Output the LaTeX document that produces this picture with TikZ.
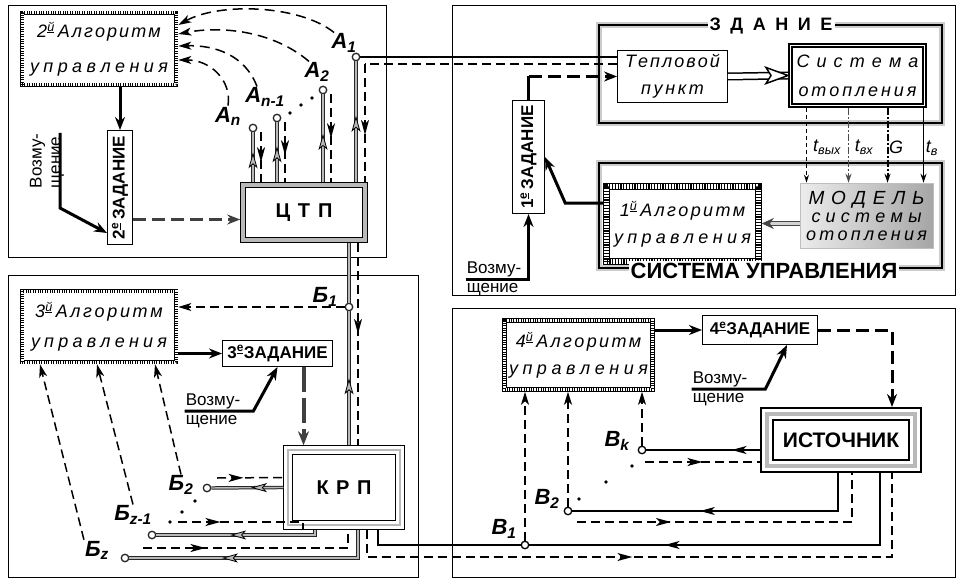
\documentclass[tikz,border=0pt]{standalone}
\usepackage{fontspec}
\setmainfont{Liberation Sans}
\usetikzlibrary{arrows.meta,decorations.markings}

\makeatletter
\newcommand\spr[2]{\hbox to #1{\@tfor\spr@c:=#2\do{\spr@c\hfil}\unskip}}
\makeatother
\newcommand\ordn[2]{#1\textsuperscript{\underline{#2}}}
\newcommand\pinlab[2]{#1\textsubscript{#2}}

\newcommand\itf{\fontsize{18}{27}\selectfont\itshape}
\newcommand\bff{\fontsize{17}{20}\selectfont\bfseries}
\newcommand\bigbf{\fontsize{20}{24}\selectfont\bfseries}
\newcommand\labf{\fontsize{22}{24}\selectfont\bfseries\itshape}
\newcommand\vzf{\fontsize{17}{19}\selectfont}

\tikzset{
  panel/.style={draw, line width=0.7pt},
  frm/.style={line width=1.3pt, preaction={draw=gray!40, line width=6pt}},
  algbox/.style={draw=black, line width=3pt, dash pattern=on 1pt off 1.4pt,
    preaction={draw=black, line width=4.6pt, solid},
    preaction={draw=white, line width=3pt, solid},
    outer sep=2.3pt, inner sep=0pt, align=center, font=\itf},
  alg1box/.style={draw=black, line width=5pt, dash pattern=on 1.2pt off 1.6pt,
    preaction={draw=black, line width=6.6pt, solid},
    preaction={draw=white, line width=5pt, solid},
    outer sep=3.3pt, inner sep=0pt, align=center, font=\itf},
  zadbox/.style={draw, line width=1pt, inner sep=0pt, font=\bff},
  ctpbox/.style={draw=gray!55, line width=3.6pt, preaction={draw=black, line width=5.6pt},
    outer sep=2.8pt, inner sep=0pt, font=\bigbf},
  krpbox/.style={draw=gray!55, line width=2.5pt, preaction={draw=black, line width=9.5pt},
    preaction={draw=white, line width=7.9pt}, outer sep=4.75pt, inner sep=0pt, font=\bigbf},
  istbox/.style={draw=gray!55, line width=4pt, preaction={draw=black, line width=14pt},
    preaction={draw=white, line width=10pt}, outer sep=7pt, inner sep=0pt,
    font=\fontsize{21}{24}\selectfont\bfseries},
  sobox/.style={draw=white, line width=1.2pt, preaction={draw=black, line width=5pt},
    outer sep=2.5pt, inner sep=0pt, align=center, font=\itf},
  tpbox/.style={draw, line width=0.9pt, inner sep=0pt, align=center, font=\itf},
  modelbox/.style={left color=gray!15, right color=gray!70, draw=gray!50, line width=0.5pt,
    inner sep=0pt, align=center, font=\fontsize{18}{18}\selectfont\itshape},
  ttl/.style={fill=white, inner sep=2pt},
  lab/.style={font=\labf, inner sep=1pt},
  vz/.style={font=\vzf, align=left, inner sep=1pt},
  tap/.style={circle, draw, line width=1.3pt, fill=white, inner sep=0pt, minimum size=7.5pt},
  gtap/.style={tap, draw=gray!30!black},
  sline/.style={line width=1.6pt},
  dline/.style={line width=1.5pt, dash pattern=on 9pt off 5pt},
  gline/.style={draw=gray!55, line width=1.4pt, preaction={draw=black!85, line width=3.4pt}},
  tline/.style={line width=3pt},
  tarr/.style={line width=3pt, -{Stealth[length=13pt,width=10pt]}},
  tdarr/.style={tarr, dash pattern=on 13pt off 6pt},
  gtarr/.style={draw=gray!50!black, line width=4pt, dash pattern=on 25pt off 6pt, -{Stealth[length=14pt,width=11pt]}},
  tip/.style={-{Stealth[length=13pt,width=8pt,inset=3.5pt]}},
  midarr/.style={postaction={decorate,decoration={markings,
    mark=at position #1 with {\arrow{Stealth[length=15pt,width=8pt,inset=4pt]}}}}},
  gmidarr/.style={postaction={decorate,decoration={markings,
    mark=at position #1 with {\arrow{Stealth[length=16pt,width=9pt,inset=4pt,color=black,fill=gray!55,line width=0.8pt]}}}}},
}

\begin{document}
\begin{tikzpicture}[x=1pt,y=-1pt]
  \useasboundingbox (0,0) rectangle (957,580);

  % ----- Rahmen -----
  \draw[panel] (8,5) rectangle (386,257);
  \draw[panel] (452,5) rectangle (955,295);
  \draw[panel] (8,275) rectangle (418,577);
  \draw[panel] (452,308) rectangle (955,577);

  % ----- ЦТП -----
  \node[algbox, minimum width=154pt, minimum height=72pt, font=\fontsize{18}{35}\selectfont\itshape] (alg2) at (99,49)
    {\ordn{2}{й}\,\spr{103pt}{Алгоритм}\\\spr{138pt}{управления}};
  \node[zadbox, rotate=90, minimum width=114pt, minimum height=25pt] (zad2) at (120,187.5) {\ordn{2}{е}\,ЗАДАНИЕ};
  \node[vz, rotate=90] (vozm2) at (47,161) {Возму-\\щение};
  \node[ctpbox, minimum width=122pt, minimum height=55pt] (ctp) at (304,212.5) {\spr{57pt}{ЦТП}};

  \draw[tarr] (alg2.south -| zad2.east) -- (zad2.east);
  \coordinate (v2a) at (60,133);
  \draw[tarr] (v2a) -- ++(0,75) -- ([yshift=12pt]zad2.north west);
  \draw[tdarr, draw=black!75] ([yshift=-7pt]ctp.west -| zad2.south) -- ([yshift=-7pt]ctp.west);

  % Abzweige A
  \node[gtap] (a1) at (356,57) {};
  \node[gtap] (a2) at (323,90) {};
  \node[gtap] (an1) at (277,118) {};
  \node[gtap] (an) at (253,128) {};
  \node[lab] (la1) at (344,43) {\pinlab{A}{1}};
  \node[lab] (la2) at (317,72) {\pinlab{A}{2}};
  \node[lab] (lan1) at (265,97) {\pinlab{A}{n-1}};
  \node[lab] (lan) at (228,116) {\pinlab{A}{n}};
  \fill (290,113) circle (1.8pt);
  \fill (301,105) circle (1.8pt);
  \fill (312,98) circle (1.8pt);

  \draw[gline, gmidarr=0.6] (an |- ctp.north) -- (an);
  \draw[gline, gmidarr=0.6] (an1 |- ctp.north) -- (an1);
  \draw[gline, gmidarr=0.55] (a2 |- ctp.north) -- (a2);
  \draw[gline, gmidarr=0.55] (a1 |- ctp.north) -- (a1);
  \draw[dline, midarr=0.6] ([xshift=8pt]an.south) -- ([xshift=8pt]an.south |- ctp.north);
  \draw[dline, midarr=0.55] ([xshift=8pt]an1.south) -- ([xshift=8pt]an1.south |- ctp.north);
  \draw[dline, midarr=0.5] ([xshift=8pt]a2.south) -- ([xshift=8pt]a2.south |- ctp.north);
  \coordinate (a1d) at (365,64);

  % Rueckmeldungen
  \draw[dline, dash pattern=on 10pt off 6pt, tip] ([xshift=-10pt]la1.north) .. controls (300,5) and (220,2) .. ([yshift=24pt]alg2.east);
  \draw[dline, dash pattern=on 10pt off 6pt, tip] ([xshift=-8pt]la2.north) .. controls (272,30) and (220,26) .. ([yshift=15pt]alg2.east);
  \draw[dline, dash pattern=on 10pt off 6pt, tip] ([xshift=-8pt]lan1.north) .. controls (245,55) and (215,45) .. ([yshift=3pt]alg2.east);
  \draw[dline, dash pattern=on 10pt off 6pt, tip] (lan.north) .. controls (232,80) and (210,60) .. ([yshift=-11pt]alg2.east);

  % ----- ЗДАНИЕ -----
  \draw[frm] (599,25) rectangle (942,123);
  \node[ttl, font=\fontsize{18}{20}\selectfont\bfseries] (zd) at (771,26) {\spr{123pt}{ЗДАНИЕ}};
  \node[tpbox, minimum width=110pt, minimum height=52pt] (tp) at (672.5,76.5)
    {\spr{95pt}{Тепловой}\\\spr{63pt}{пункт}};
  \node[sobox, minimum width=134pt, minimum height=60pt, font=\fontsize{18}{29}\selectfont\itshape] (so) at (857.5,75.5)
    {\spr{122pt}{Система}\\\spr{118pt}{отопления}};
  \draw[double=white, double distance=5pt, line width=1.5pt] (tp.east) -- (so.west);
  \draw[line width=1.5pt, line join=miter, fill=white] (so.west) -- ++(-22,-8) -- ++(5,8) -- ++(-5,8) -- cycle;

  \draw[sline] (a1) -- (a1 -| tp.west);
  \draw[dline] (tp.west |- a1d) -- (a1d);
  \draw[dline, midarr=0.6] (a1d) -- (a1d |- ctp.north);

  % ----- СИСТЕМА УПРАВЛЕНИЯ -----
  \draw[frm] (599,163) rectangle (942,268);
  \node[alg1box, minimum width=152pt, minimum height=75pt, font=\fontsize{18}{27}\selectfont\itshape] (alg1) at (682.5,224)
    {\ordn{1}{й}\,\spr{105pt}{Алгоритм}\\\spr{137pt}{управления}};
  \node[modelbox, minimum width=133pt, minimum height=65pt] (model) at (866.5,215.5)
    {{\fontsize{19}{18}\selectfont\spr{116pt}{МОДЕЛЬ}}\\\spr{110pt}{системы}\\\spr{121pt}{отопления}};
  \node[ttl, font=\fontsize{22}{24}\selectfont\bfseries] (su) at (764,271) {СИСТЕМА УПРАВЛЕНИЯ};
  \draw[draw=gray!55!black, double=gray!35, double distance=2.5pt, line width=0.8pt,
    -{Stealth[length=12pt,width=11pt]}] ([yshift=-8pt]model.west) -- ([yshift=-8pt]model.west -| alg1.east);

  \node[zadbox, rotate=90, minimum width=113pt, minimum height=32pt] (zad1) at (528.5,157) {\ordn{1}{е}\,ЗАДАНИЕ};
  \node[vz] (vozm1) at (494,279) {Возму-\\щение};
  \draw[tline] (zad1.east) -- (zad1.east |- tp.west);
  \draw[tdarr] (zad1.east |- tp.west) -- (tp.west);
  \draw[tarr] ([yshift=21pt]alg1.west) -- ++(-38,0) -- (zad1.south);
  \draw[tarr] (vozm1.west) -| (zad1.west);

  % Messgroessen
  \draw[line width=0.9pt, dash pattern=on 4pt off 3pt, -{Stealth[length=8pt,width=5pt]}]
    ([xshift=-51pt]so.south) -- ([xshift=-51pt]so.south |- model.north);
  \draw[draw=gray!60!black, line width=1.8pt, dash pattern=on 7pt off 2pt on 2pt off 2pt, -{Stealth[length=9pt,width=6pt]}]
    ([xshift=-9pt]so.south) -- ([xshift=-9pt]so.south |- model.north);
  \draw[line width=2pt, dash pattern=on 7pt off 2pt on 2pt off 2pt, -{Stealth[length=9pt,width=6pt]}]
    ([xshift=30pt]so.south) -- ([xshift=30pt]so.south |- model.north);
  \draw[line width=1.8pt, -{Stealth[length=9pt,width=6pt]}]
    ([xshift=66pt]so.south) -- ([xshift=66pt]so.south |- model.north);
  \node[font=\itf] (tvyx) at (827,147) {t\textsubscript{вых}};
  \node[font=\itf] (tvx) at (864,147) {t\textsubscript{вх}};
  \node[font=\itf] (tg) at (896,147) {G};
  \node[font=\itf] (tv) at (932,148) {t\textsubscript{в}};

  % ----- КРП -----
  \node[algbox, minimum width=154pt, minimum height=71pt, font=\fontsize{18}{30}\selectfont\itshape] (alg3) at (99,326.5)
    {\ordn{3}{й}\,\spr{107pt}{Алгоритм}\\\spr{136pt}{управления}};
  \node[zadbox, minimum width=110pt, minimum height=26pt] (zad3) at (277.5,353.5) {\ordn{3}{е}ЗАДАНИЕ};
  \node[vz] (vozm3) at (213,411) {Возму-\\щение};
  \node[krpbox, minimum width=112pt, minimum height=75pt] (krp) at (344,487.5) {\spr{55pt}{КРП}};

  \draw[tarr] (alg3.east |- zad3.west) -- (zad3.west);
  \draw[tarr] (vozm3.west) -- ([xshift=12pt]vozm3.east) -- (zad3.south);
  \draw[gtarr] ([xshift=26pt]zad3.south) -- ([xshift=26pt]zad3.south |- krp.north);

  % Abzweige Б
  \node[gtap] (b1) at (349,307) {};
  \node[gtap] (b2) at (207,488) {};
  \node[gtap] (bz1) at (152,535) {};
  \node[gtap] (bz) at (125,558) {};
  \node[lab] (lb1) at (325,297) {\pinlab{Б}{1}};
  \node[lab] (lb2) at (181,485) {\pinlab{Б}{2}};
  \node[lab] (lbz1) at (133,515) {\pinlab{Б}{z-1}};
  \node[lab] (lbz) at (97,550) {\pinlab{Б}{z}};
  \fill (195,501) circle (1.8pt);
  \fill (182,512) circle (1.8pt);
  \fill (170,522) circle (1.8pt);
  \coordinate (dz1) at (178,522);
  \coordinate (dz) at (143,548);

  \draw[gline, gmidarr=0.5] (b1 |- krp.north) -- (b1);
  \draw[gline] (b1) -- (b1 |- ctp.south);
  \draw[dline, midarr=0.45] ([xshift=9pt]b1 |- ctp.south) -- ([xshift=9pt]b1 |- krp.north);
  \draw[dline, tip] (b1) -- (b1 -| alg3.east);

  \draw[gline, gmidarr=0.45] (krp.west) -- (b2);
  \draw[dline, midarr=0.4] ([shift={(10pt,10pt)}]b2.center) -- ([yshift=10pt]krp.west);
  \draw[gline, gmidarr=0.55] ([xshift=-29pt]krp.south) |- (bz1);
  \draw[dline, midarr=0.32] (dz1) -| ([xshift=-41pt]krp.south);
  \draw[gline, gmidarr=0.64] ([xshift=14pt]krp.south) |- (bz);
  \draw[dline, midarr=0.28] (dz) -| ([xshift=4pt]krp.south);

  \draw[dline, tip] (lb2.north) -- ([xshift=56pt]alg3.south);
  \draw[dline, tip] (lbz1.north) -- ([xshift=-2pt]alg3.south);
  \draw[dline, tip] (lbz.north west) -- ([xshift=-59pt]alg3.south);

  % ----- ИСТОЧНИК -----
  \node[algbox, minimum width=148pt, minimum height=69pt, font=\fontsize{18}{27}\selectfont\itshape] (alg4) at (578.5,355)
    {\ordn{4}{й}\,\spr{105pt}{Алгоритм}\\\spr{139pt}{управления}};
  \node[zadbox, minimum width=115pt, minimum height=29pt] (zad4) at (760,330) {\ordn{4}{е}ЗАДАНИЕ};
  \node[vz] (vozm4) at (720,389) {Возму-\\щение};
  \node[istbox, minimum width=148pt, minimum height=52pt] (ist) at (841,440) {ИСТОЧНИК};

  \draw[tarr] (alg4.east |- zad4.west) -- (zad4.west);
  \draw[tarr] (vozm4.west) -- ([xshift=17pt]vozm4.east) -- ([xshift=27pt]zad4.south);
  \draw[tdarr] (zad4.east) -| ([xshift=51pt]ist.north);

  % Abzweige В
  \node[tap] (vk) at (642,450) {};
  \node[tap] (v2) at (568,511) {};
  \node[tap] (v1) at (525,545) {};
  \node[lab] (lvk) at (617,441) {\pinlab{В}{k}};
  \node[lab] (lv2) at (547,499) {\pinlab{В}{2}};
  \node[lab] (lv1) at (504,529) {\pinlab{В}{1}};
  \fill (632,466) circle (1.8pt);
  \fill (606,482) circle (1.8pt);
  \fill (579,499) circle (1.8pt);

  \draw[sline, midarr=0.25] ([yshift=-10pt]ist.west) -- (vk);
  \draw[dline, midarr=0.5] ([shift={(3pt,-12pt)}]vk.center) -- ([yshift=-22pt]ist.west);
  \draw[sline, midarr=0.58] ([xshift=-3pt]ist.south) |- (v2);
  \draw[dline, midarr=0.29] ([shift={(9pt,-11pt)}]v2.center) -| ([xshift=11pt]ist.south);
  \draw[sline, midarr=0.68] ([xshift=39pt]ist.south) |- (v1);
  \draw[sline] (v1) -| ([xshift=34pt]krp.south);
  \draw[dline, midarr=0.46] ([xshift=23pt]krp.south) |- ([yshift=-12pt]v1.center) -| ([xshift=51pt]ist.south);

  \draw[dline, tip] (vk) -- (vk |- alg4.south);
  \draw[dline, tip] (v2) -- (v2 |- alg4.south);
  \draw[dline, tip] (v1) -- (v1 |- alg4.south);

\end{tikzpicture}
\end{document}
